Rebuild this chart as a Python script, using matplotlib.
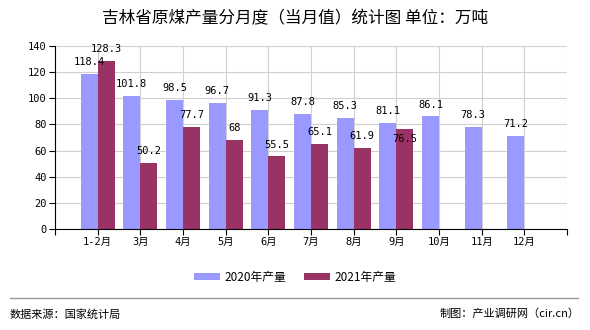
import matplotlib
matplotlib.use('Agg')
import matplotlib.pyplot as plt
import numpy as np

months = ['1-2月', '3月', '4月', '5月', '6月', '7月', '8月', '9月', '10月', '11月', '12月']
y2020 = [118.4, 101.8, 98.5, 96.7, 91.3, 87.8, 85.3, 81.1, 86.1, 78.3, 71.2]
y2021 = [128.3, 50.2, 77.7, 68, 55.5, 65.1, 61.9, 76.5]

CJK = ['Noto Sans CJK SC', 'DejaVu Sans']
MONO = ['DejaVu Sans Mono', 'Noto Sans CJK SC']
plt.rcParams['font.family'] = CJK

c20 = '#9999ff'
c21 = '#993366'

fig = plt.figure(figsize=(5.9, 3.3), dpi=100)
ax = fig.add_axes([55 / 590, 1 - 229 / 330, 512 / 590, 183 / 330])

x = np.arange(len(months))
w = 0.4
ax.bar(x - w / 2, y2020, w, color=c20, label='2020年产量', zorder=2)
ax.bar(x[:len(y2021)] + w / 2, y2021, w, color=c21, label='2021年产量', zorder=2)

for i, v in enumerate(y2020):
    ax.annotate(f'{v:g}', (i - w / 2, v), xytext=(0, 5), textcoords='offset points',
                ha='center', va='bottom', fontsize=7.5, family=MONO)
for i, v in enumerate(y2021):
    # 9月的标签压在柱子上，避免与2020重叠
    dy = -11 if i == 7 else 5
    ax.annotate(f'{v:g}', (i + w / 2, v), xytext=(0, dy), textcoords='offset points',
                ha='center', va='bottom', fontsize=7.5, family=MONO)

ax.set_xlim(-1, 11)
ax.set_ylim(0, 140)
ax.set_yticks(range(0, 141, 20))
ax.set_xticks(np.arange(-1, 12))
ax.set_xticklabels([''] + months + [''])
ax.grid(True, color='#d0d0d0', linewidth=0.8, zorder=0)
ax.set_axisbelow(True)
for s in ['top', 'right']:
    ax.spines[s].set_visible(False)
ax.spines['left'].set_color('black')
ax.spines['bottom'].set_color('black')
ax.tick_params(axis='both', length=4, width=0.8, labelsize=7.5, pad=2)
for lab in ax.get_xticklabels() + ax.get_yticklabels():
    lab.set_family(MONO)

fig.text(0.5, 1 - 19 / 330, '吉林省原煤产量分月度（当月值）统计图 单位：万吨',
         ha='center', va='center', fontsize=12)

leg = fig.legend(loc='center', bbox_to_anchor=(0.5, 1 - 277 / 330), ncol=2, frameon=False,
                 fontsize=8.5, handlelength=2.2, handleheight=0.6, columnspacing=1.5,
                 handletextpad=0.4)

fig.add_artist(plt.Line2D([10 / 590, 578 / 590], [1 - 298 / 330] * 2, color='#999999', lw=1))
fig.text(10 / 590, 1 - 314 / 330, '数据来源：国家统计局', ha='left', va='center', fontsize=8)
fig.text(580 / 590, 1 - 314 / 330, '制图：产业调研网（cir.cn）', ha='right', va='center', fontsize=8)

fig.savefig('out.png', dpi=100)
